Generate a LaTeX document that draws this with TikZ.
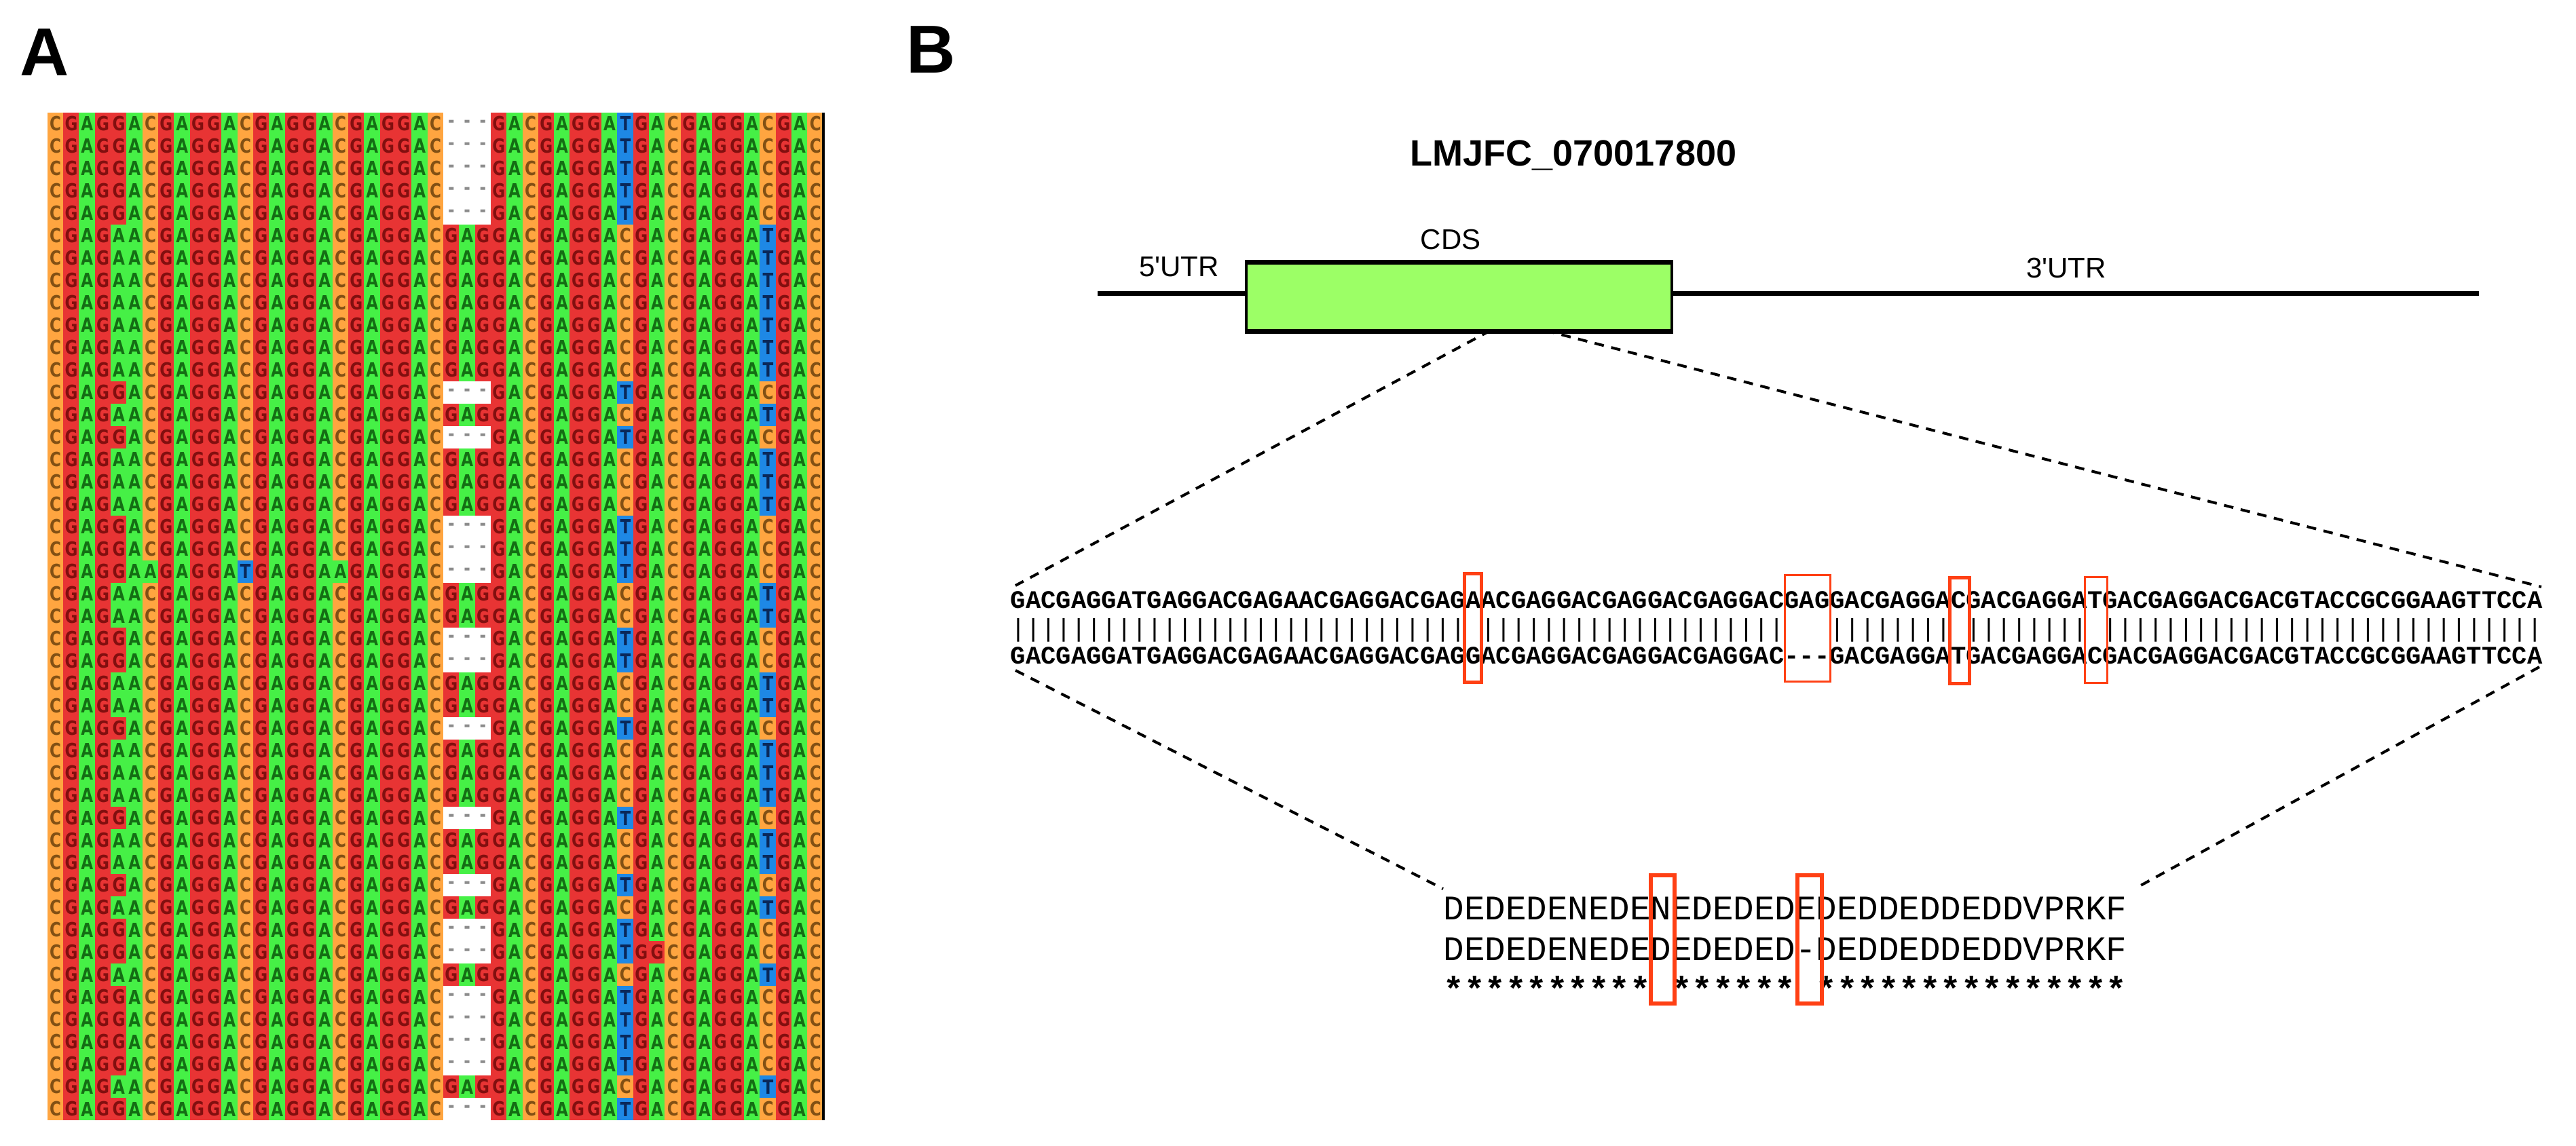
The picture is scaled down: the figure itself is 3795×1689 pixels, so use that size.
\documentclass[tikz,border=0pt]{standalone}
\usepackage{fontspec}
\setmainfont{Liberation Sans}
\newfontfamily\cellfont{DejaVu Sans}[FakeStretch=0.8]
\newfontfamily\seqfont{Liberation Mono}
\definecolor{cA}{RGB}{70,240,70}
\definecolor{cG}{RGB}{232,52,52}
\definecolor{cC}{RGB}{255,165,64}
\definecolor{cT}{RGB}{30,136,229}
\definecolor{tA}{RGB}{20,110,20}
\definecolor{tG}{RGB}{130,15,15}
\definecolor{tC}{RGB}{130,80,20}
\definecolor{tT}{RGB}{10,40,90}
\definecolor{cdsgreen}{RGB}{156,255,102}
\definecolor{boxred}{RGB}{255,64,20}
\newcount\rowno
\newcount\colno
\def\cw{23.327}
\def\ch{33}
\def\gx{70}
\def\gy{166}
\def\sq{\XeTeXglyph\XeTeXcharglyph"27\relax}
\def\seqrow#1{\colno=0\relax\seqaux#1\relax\advance\rowno by 1\relax}
\def\seqaux#1{\ifx\relax#1\else\seqcell{#1}\advance\colno by 1\relax\expandafter\seqaux\fi}
\def\seqcell#1{%
  \pgfmathsetmacro\cx{\gx+\the\colno*\cw+\cw/2}%
  \pgfmathsetmacro\cy{\gy+\the\rowno*\ch+\ch/2}%
  \if-#1\relax
    \node[gapch] at (\cx,\cy) {-};%
  \else
    \fill[bg#1] (\cx-\cw/2-0.3,\cy-\ch/2-0.3) rectangle (\cx+\cw/2+0.3,\cy+\ch/2+0.3);%
    \node[fg#1] at (\cx,\cy) {#1};%
  \fi}
\def\RX{CGAGGACGAGGACGAGGACGAGGAC---GACGAGGATGACGAGGACGAC}
\def\RY{CGAGAACGAGGACGAGGACGAGGACGAGGACGAGGACGACGAGGATGAC}
\def\RS{CGAGGAAGAGGATGAGGAAGAGGAC---GACGAGGATGACGAGGACGAC}
\def\RZ{CGAGGACGAGGACGAGGACGAGGAC---GACGAGGATGGCGAGGACGAC}
\def\R#1{\expandafter\seqrow\expandafter{#1}}
\tikzset{
  cellfnt/.style={inner sep=0pt,font=\cellfont\bfseries\fontsize{7.2}{8}\selectfont},
  bgA/.style={fill=cA}, bgG/.style={fill=cG}, bgC/.style={fill=cC}, bgT/.style={fill=cT},
  fgA/.style={cellfnt,text=tA}, fgG/.style={cellfnt,text=tG},
  fgC/.style={cellfnt,text=tC}, fgT/.style={cellfnt,text=tT},
  gapch/.style={cellfnt,text=black!45},
  panel/.style={inner sep=0pt,font=\bfseries\fontsize{25}{25}\selectfont},
  dnatext/.style={inner sep=0pt,font=\seqfont\bfseries\fontsize{9.31}{10}\selectfont},
  dnabars/.style={inner sep=0pt,font=\seqfont\fontsize{9.31}{10}\selectfont},
  prottext/.style={inner sep=0pt,font=\seqfont\fontsize{12.71}{13}\selectfont},
  genelabel/.style={inner sep=0pt,font=\fontsize{10.5}{11}\selectfont},
  zoomline/.style={line width=1pt,dash pattern=on 3.5pt off 2.8pt},
  hilite/.style={draw=boxred,line width=1.2pt,inner sep=0pt},
  hilitethin/.style={draw=boxred,line width=0.8pt,inner sep=0pt},
}
\begin{document}
\begin{tikzpicture}[x=0.25pt,y=-0.25pt]
\useasboundingbox (0,0) rectangle (3795,1689);
\fill[white] (0,0) rectangle (3795,1689);
% ---------------- Panel A ----------------
\node[panel,anchor=base] (labA) at (66,112) {A};
\rowno=0
\R\RX \R\RX \R\RX \R\RX \R\RX
\R\RY \R\RY \R\RY \R\RY \R\RY \R\RY \R\RY
\R\RX
\R\RY
\R\RX
\R\RY \R\RY \R\RY
\R\RX \R\RX \R\RS
\R\RY \R\RY
\R\RX \R\RX
\R\RY \R\RY
\R\RX
\R\RY \R\RY \R\RY
\R\RX
\R\RY \R\RY
\R\RX
\R\RY
\R\RX
\R\RZ
\R\RY
\R\RX \R\RX \R\RX \R\RX
\R\RY
\R\RX
\draw[line width=0.8pt] (1213,166) -- (1213,1651);
% ---------------- Panel B ----------------
\node[panel,anchor=base] (labB) at (1372,108) {B};
\node[inner sep=0pt,font=\bfseries\fontsize{13.5}{14}\selectfont,anchor=base] (gene) at (2318,245) {LMJFC\_070017800};
\coordinate (lineL) at (1617,433);
\coordinate (lineR) at (3652,433);
\draw[line width=1.75pt] (lineL) -- (lineR);
\node[draw=black,line width=1pt,fill=cdsgreen,minimum width=627*0.25pt,minimum height=99*0.25pt,inner sep=0pt,anchor=north west] (cds) at (1834,386) {};
\draw[line width=1.7pt] (cds.north west) -- (cds.north east);
\draw[line width=1.7pt] (cds.south west) -- (cds.south east);
\node[genelabel,anchor=base] (cdslab) at (2137,368) {CDS};
\node[genelabel,anchor=base] (utr5) at (1737,408) {5\sq UTR};
\node[genelabel,anchor=base] (utr3) at (3044,410) {3\sq UTR};
% DNA alignment
\node[dnatext,anchor=base west] (dnatop) at (1488,897) {GACGAGGATGAGGACGAGAACGAGGACGAGAACGAGGACGAGGACGAGGACGAGGACGAGGACGACGAGGATGACGAGGACGACGTACCGCGGAAGTTCCA};
\node[dnabars,anchor=west] (dnabar) at (1488,929) {||||||||||||||||||||||||||||||\hphantom{|}||||||||||||||||||||\hphantom{|||}||||||||\hphantom{|}||||||||\hphantom{|}|||||||||||||||||||||||||||||};
\node[dnatext,anchor=base west] (dnabot) at (1488,978) {GACGAGGATGAGGACGAGAACGAGGACGAGGACGAGGACGAGGACGAGGAC-\kern0pt-\kern0pt-GACGAGGATGACGAGGACGACGAGGACGACGTACCGCGGAAGTTCCA};
\node[hilite,minimum width=25*0.25pt,minimum height=160*0.25pt,anchor=north west] (m1) at (2155,843) {};
\node[hilitethin,minimum width=67*0.25pt,minimum height=157*0.25pt,anchor=north west] (m2) at (2628,846) {};
\node[hilite,minimum width=29*0.25pt,minimum height=156*0.25pt,anchor=north west] (m3) at (2870,849) {};
\node[hilitethin,minimum width=33*0.25pt,minimum height=156*0.25pt,anchor=north west] (m4) at (3070,849) {};
% protein alignment
\node[prottext,anchor=base west] (prot1) at (2126,1355) {DEDEDENEDENEDEDEDEDEDDEDDEDDVPRKF};
\node[prottext,anchor=base west] (prot2) at (2126,1415) {DEDEDENEDEDEDEDED-DEDDEDDEDDVPRKF};
\node[prottext,font=\seqfont\bfseries\fontsize{12.71}{13}\selectfont,anchor=north west] (prot3) at (2126,1438) {**********\hphantom{*}******\hphantom{*}***************};
\node[draw=boxred,line width=1.5pt,inner sep=0pt,minimum width=35*0.25pt,minimum height=189*0.25pt,anchor=north west] (p1) at (2429,1287) {};
\node[draw=boxred,line width=1.5pt,inner sep=0pt,minimum width=36*0.25pt,minimum height=189*0.25pt,anchor=north west] (p2) at (2645,1287) {};
% zoom lines
\coordinate (zbl) at (2196,487);
\coordinate (zbr) at (2276,487);
\coordinate (zsl) at (1496,863);
\coordinate (zsr) at (3744,865);
\coordinate (zdl) at (1496,988);
\coordinate (zdr) at (3741,983);
\coordinate (zpl) at (2126,1310);
\coordinate (zpr) at (3150,1307);
\draw[zoomline] (zbl) -- (zsl);
\draw[zoomline] (zbr) -- (zsr);
\draw[zoomline] (zdl) -- (zpl);
\draw[zoomline] (zdr) -- (zpr);
\end{tikzpicture}
\end{document}
